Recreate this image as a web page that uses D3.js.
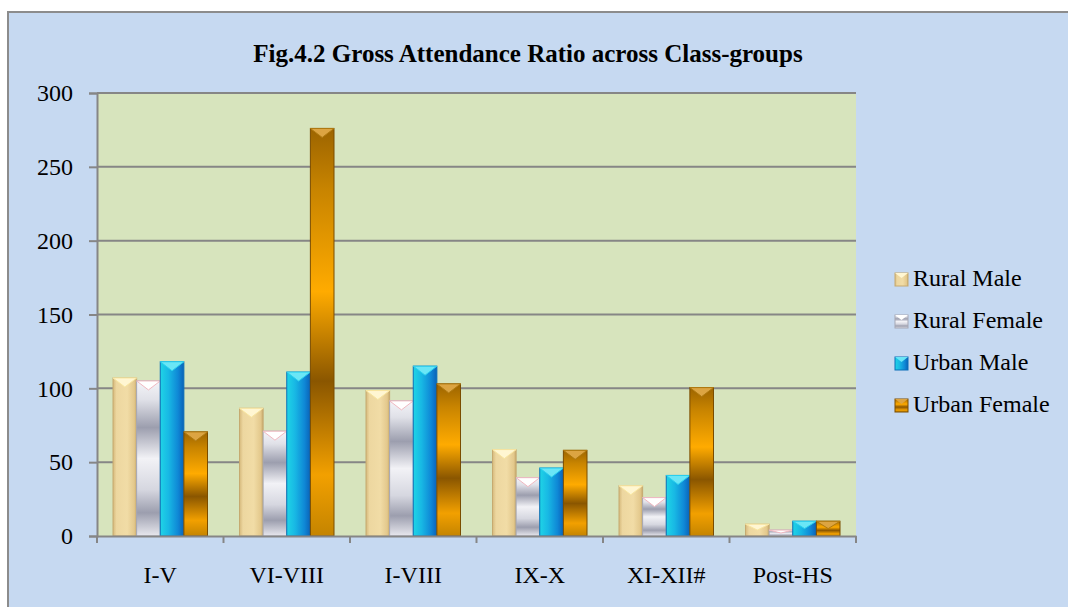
<!DOCTYPE html>
<html>
<head>
<meta charset="utf-8">
<script src="https://cdn.jsdelivr.net/npm/d3@7"></script>
<style>
  body { margin: 0; background: #fff; }
  text { font-family: "Liberation Serif", "Times New Roman", serif; }
</style>
</head>
<body>
<svg width="1068" height="607"></svg>
<script>
  // class-groups and series
  const classGroups = ["I-V", "VI-VIII", "I-VIII", "IX-X", "XI-XII#", "Post-HS"];
  const seriesNames = ["Rural Male", "Rural Female", "Urban Male", "Urban Female"];
  const ruralMale   = [107, 86.5, 98.5, 58.5, 34, 8];
  const ruralFemale = [105, 71, 91.5, 39.5, 26, 4];
  const urbanMale   = [118, 111, 115, 46, 41, 10];
  const urbanFemale = [70.5, 276, 103, 58, 100.5, 10];
  const yTicks = [0, 50, 100, 150, 200, 250, 300];

  const allSeries = [ruralMale, ruralFemale, urbanMale, urbanFemale];
  const data = classGroups.map((g, i) => ({ group: g, values: allSeries.map(s => s[i]) }));

  const svg = d3.select("svg");
  const plot = { left: 97, right: 856, top: 93, bottom: 536 };

  // background of chart
  svg.append("rect")
    .attr("x", 8).attr("y", 12)
    .attr("width", 1070).attr("height", 610)
    .attr("fill", "#c6d9f1")
    .attr("stroke", "#8c8c8c").attr("stroke-width", 2);

  svg.append("rect")
    .attr("x", plot.left).attr("y", plot.top)
    .attr("width", plot.right - plot.left).attr("height", plot.bottom - plot.top)
    .attr("fill", "#d7e4bd");

  // gradients
  const defs = svg.append("defs");
  function grad(id, horizontal, stops) {
    const g = defs.append("linearGradient").attr("id", id)
      .attr("x1", 0).attr("y1", 0)
      .attr("x2", horizontal ? 1 : 0).attr("y2", horizontal ? 0 : 1);
    stops.forEach(s => g.append("stop").attr("offset", s[0]).attr("stop-color", s[1]));
  }
  grad("gRM", true, [[0, "#d6b97c"], [0.15, "#edd7a0"], [0.6, "#f1dca6"], [0.9, "#e3c88c"], [1, "#c6a86a"]]);
  grad("gRF", false, [[0, "#f4f4f8"], [0.12, "#e0e1e8"], [0.3, "#9c9eae"], [0.5, "#f2f2f6"], [0.7, "#d6d7e0"], [0.85, "#9c9eae"], [1, "#e8e8ee"]]);
  grad("gUM", true, [[0, "#1fd4e6"], [0.35, "#18b8e4"], [0.75, "#0f88d6"], [1, "#0a62b8"]]);
  grad("gUF", false, [[0, "#9c6400"], [0.15, "#c88400"], [0.4, "#ffab00"], [0.62, "#8a5600"], [0.85, "#f2a000"], [1, "#c48400"]]);
  const fills = ["url(#gRM)", "url(#gRF)", "url(#gUM)", "url(#gUF)"];
  const edges = ["#c6aa70", "#a6a7b4", "#0b6fb8", "#7a4c00"];
  const bevels = ["#fff6d2", "#ffffff", "#6ae6f6", "#dca442"];
  const bevelEdge = ["#f8e6a0", "#f0b8c0", "#2ad0ee", "#b07a10"];

  // scales
  const x0 = d3.scaleBand().domain(classGroups).range([plot.left, plot.right]).paddingInner(0).paddingOuter(0);
  const x1 = d3.scaleBand().domain(seriesNames).range([16, x0.bandwidth() - 16]);
  const y = d3.scaleLinear().domain([0, 300]).range([plot.bottom, plot.top]);

  // gridlines
  svg.append("g").selectAll("line").data(yTicks.filter(t => t > 0)).join("line")
    .attr("x1", plot.left).attr("x2", plot.right)
    .attr("y1", d => y(d)).attr("y2", d => y(d))
    .attr("stroke", "#868686").attr("stroke-width", 2);

  // bars
  const groups = svg.append("g").selectAll("g").data(data).join("g")
    .attr("transform", d => `translate(${x0(d.group)},0)`);

  const bars = groups.selectAll("g").data(d => d.values.map((v, i) => ({ v, i }))).join("g");

  bars.append("rect")
    .attr("x", d => x1(seriesNames[d.i]))
    .attr("y", d => y(d.v))
    .attr("width", x1.bandwidth())
    .attr("height", d => y(0) - y(d.v))
    .attr("fill", d => fills[d.i])
    .attr("stroke", d => edges[d.i])
    .attr("stroke-width", 1);

  // top bevel
  bars.append("path")
    .attr("d", d => {
      const bx = x1(seriesNames[d.i]), bw = x1.bandwidth(), top = y(d.v);
      const h = Math.min(9, (y(0) - top) / 2);
      return `M${bx},${top}L${bx + bw},${top}L${bx + bw / 2},${top + h}Z`;
    })
    .attr("fill", d => bevels[d.i])
    .attr("stroke", d => bevelEdge[d.i])
    .attr("stroke-width", 1);

  // axes
  const yAxis = svg.append("g")
    .attr("transform", `translate(${plot.left},0)`)
    .call(d3.axisLeft(y).tickValues(yTicks).tickSize(8).tickPadding(16));
  yAxis.select(".domain").attr("stroke", "#868686").attr("stroke-width", 2);
  yAxis.selectAll(".tick line").attr("stroke", "#868686").attr("stroke-width", 2);
  yAxis.selectAll("text").attr("font-size", 24).attr("fill", "#000")
    .attr("font-family", "Liberation Serif, serif");

  const xAxis = svg.append("g")
    .attr("transform", `translate(0,${plot.bottom})`)
    .call(d3.axisBottom(x0).tickSize(0).tickPadding(30));
  xAxis.select(".domain").attr("stroke", "#868686").attr("stroke-width", 2);
  xAxis.selectAll("text").attr("font-size", 24).attr("fill", "#000")
    .attr("font-family", "Liberation Serif, serif");
  // category separators
  svg.append("g").selectAll("line").data(classGroups.concat(["end"])).join("line")
    .attr("x1", (d, i) => i < classGroups.length ? x0(d) : plot.right)
    .attr("x2", (d, i) => i < classGroups.length ? x0(d) : plot.right)
    .attr("y1", plot.bottom).attr("y2", plot.bottom + 7)
    .attr("stroke", "#868686").attr("stroke-width", 2);

  // title
  svg.append("text")
    .attr("x", 528).attr("y", 62)
    .attr("text-anchor", "middle")
    .attr("font-size", 25).attr("font-weight", "bold")
    .text("Fig.4.2 Gross Attendance Ratio across Class-groups");

  // legend
  const legend = svg.append("g").selectAll("g").data(seriesNames).join("g")
    .attr("transform", (d, i) => `translate(895,${273 + i * 42})`);
  legend.append("rect")
    .attr("width", 13).attr("height", 13)
    .attr("fill", (d, i) => fills[i]).attr("stroke", (d, i) => edges[i]);
  legend.append("path")
    .attr("d", "M0,0L13,0L6.5,5Z")
    .attr("fill", (d, i) => bevels[i]);
  legend.append("text")
    .attr("x", 18).attr("y", 13)
    .attr("font-size", 24)
    .text(d => d);
</script>
</body>
</html>
